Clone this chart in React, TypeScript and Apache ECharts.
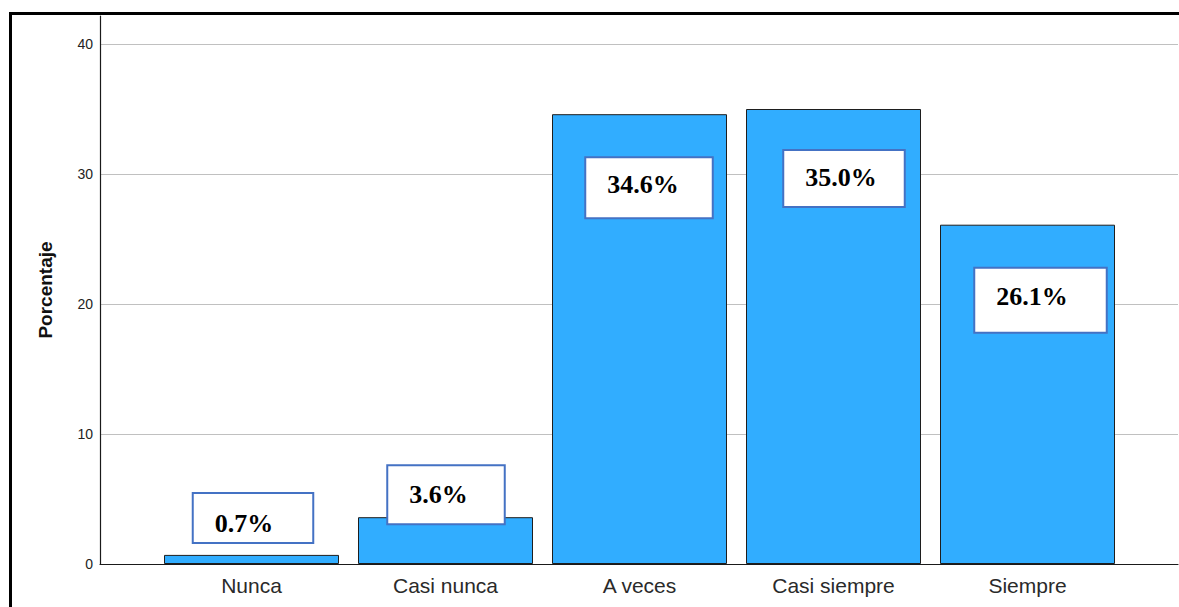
import React, { useEffect, useRef } from "react";
import * as echarts from "echarts";

const categories = ["Nunca", "Casi nunca", "A veces", "Casi siempre", "Siempre"];
const percentages = [0.7, 3.6, 34.6, 35.0, 26.1];
const yMin = 0;
const yMax = 40;
const yInterval = 10;

// label box placement relative to each bar (styling)
const labelOffsets = [[1.5, -13], [0.5, 6], [9.5, 103], [10.5, 97], [13, 107]];
const labelPaddings = [
  [16.5, 39, 5.5, 21],
  [15, 36, 16, 21],
  [13, 33, 20, 21],
  [13.5, 27, 15.5, 21],
  [14.5, 38, 22.5, 21],
];

export default function App() {
  const ref = useRef<HTMLDivElement>(null);
  useEffect(() => {
    document.body.style.margin = "0";
    const chart = echarts.init(ref.current!, null, { renderer: "svg" });
    const data = percentages.map((v, i) => ({
      value: v,
      label: { offset: labelOffsets[i], padding: labelPaddings[i] },
    }));
    const option: any = {
      animation: false,
      backgroundColor: "#fff",
      grid: [
        { left: 100, right: 1, top: 16, bottom: 43 },
        { left: 100, right: 1, top: 44, bottom: 43 },
        { left: 154.5, right: 54.5, top: 44, bottom: 43 },
      ],
      xAxis: [
        {
          gridIndex: 0, type: "value", min: 0, max: 1,
          axisLine: { show: true, lineStyle: { color: "#1a1a1a", width: 1.2 } },
          axisTick: { show: false }, axisLabel: { show: false }, splitLine: { show: false },
        },
        {
          gridIndex: 1, type: "value", min: 0, max: 1, show: false,
        },
        {
          gridIndex: 2, type: "category", data: categories,
          axisLine: { show: false }, axisTick: { show: false },
          axisLabel: {
            margin: 11, fontSize: 21, color: "#2a2a2a",
            fontFamily: "Liberation Sans, Arial, sans-serif",
          },
        },
      ],
      yAxis: [
        {
          gridIndex: 0, type: "value", min: 0, max: 42.15,
          name: "Porcentaje", nameLocation: "middle", nameRotate: 90, nameGap: 45,
          nameTextStyle: {
            fontSize: 19, fontWeight: "bold", color: "#111",
            fontFamily: "Liberation Sans, Arial, sans-serif",
          },
          axisLine: { show: true, lineStyle: { color: "#1a1a1a", width: 1.2 } },
          axisTick: { show: false }, axisLabel: { show: false }, splitLine: { show: false },
        },
        {
          gridIndex: 1, type: "value", min: yMin, max: yMax, interval: yInterval,
          axisLine: { show: false }, axisTick: { show: false },
          axisLabel: {
            margin: 7, fontSize: 14, color: "#222",
            fontFamily: "Liberation Sans, Arial, sans-serif",
          },
          splitLine: { show: true, lineStyle: { color: "#c0c0c0", width: 1 } },
        },
        {
          gridIndex: 2, type: "value", min: yMin, max: yMax, show: false,
        },
      ],
      series: [
        {
          type: "bar",
          xAxisIndex: 2,
          yAxisIndex: 2,
          data,
          barWidth: 175,
          itemStyle: { color: "#31adff", borderColor: "#1e1e1e", borderWidth: 1 },
          label: {
            show: true,
            position: "top",
            distance: 0,
            formatter: (p: any) => Number(p.value).toFixed(1) + "%",
            fontFamily: "Liberation Serif, Times New Roman, serif",
            fontWeight: "bold",
            fontSize: 26,
            lineHeight: 26,
            color: "#000",
            backgroundColor: "#fff",
            borderColor: "#4472c4",
            borderWidth: 2,
          },
        },
      ],
      graphic: [
        {
          type: "polyline",
          shape: { points: [[10.5, 607], [10.5, 13.5], [1179, 13.5]] },
          style: { stroke: "#000", lineWidth: 3, fill: "none" },
          z: 100,
        },
      ],
    };
    chart.setOption(option);
    return () => chart.dispose();
  }, []);
  return <div ref={ref} style={{ width: 1179, height: 607 }} />;
}
